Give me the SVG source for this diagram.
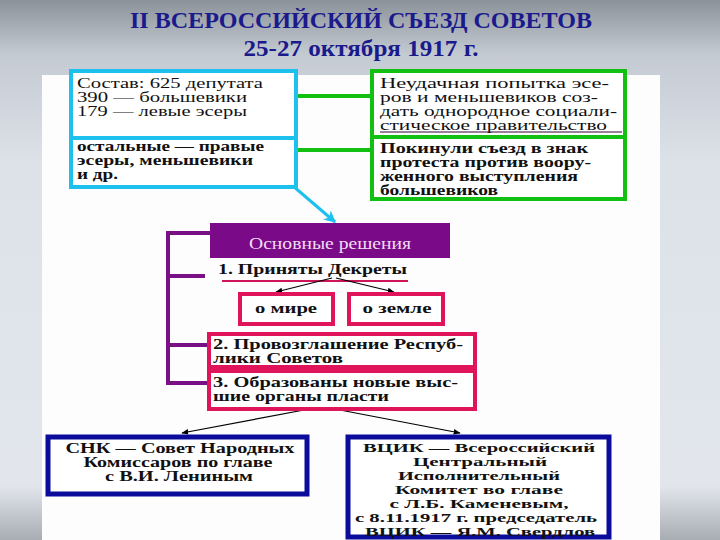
<svg xmlns="http://www.w3.org/2000/svg" width="720" height="540" viewBox="0 0 720 540">
<defs>
<linearGradient id="bg" x1="0" y1="0" x2="0" y2="1">
<stop offset="0" stop-color="#8c929a"/>
<stop offset="0.1" stop-color="#c4cad2"/>
<stop offset="0.3" stop-color="#dde2e9"/>
<stop offset="0.9" stop-color="#e2e6ec"/>
<stop offset="1" stop-color="#a8adb3"/>
</linearGradient>
<marker id="ah" viewBox="0 0 10 10" refX="9" refY="5" markerWidth="7" markerHeight="7" orient="auto" markerUnits="userSpaceOnUse">
<path d="M0,1 L10,5 L0,9 z" fill="#000"/>
</marker>
<marker id="ahc" viewBox="0 0 10 10" refX="9" refY="5" markerWidth="12" markerHeight="12" orient="auto" markerUnits="userSpaceOnUse">
<path d="M0,0 L10,5 L0,10 L3,5 z" fill="#1ec0ee"/>
</marker>
</defs>
<style>
text{font-family:"Liberation Serif","Times New Roman","DejaVu Serif",serif}
.t{font-size:14px;fill:#111}
.s{font-size:12px}
.b{font-weight:bold}
.ttl{font-weight:bold;fill:#1a1a8c}
.cy{fill:#fff;stroke:#1ec0ee;stroke-width:4}
.gr{fill:#fff;stroke:#12c012;stroke-width:4}
.rd{fill:#fff;stroke:#e0145a;stroke-width:4}
.bl{fill:#fff;stroke:#0c0c9c;stroke-width:5}
.pl{fill:none;stroke:#7a1086;stroke-width:4}
</style>
<rect x="0" y="0" width="720" height="540" fill="url(#bg)"/>
<rect x="42" y="75" width="618" height="465" fill="#fdfdfd"/>

<g id="title">
<text class="ttl" x="361" y="28" font-size="23" text-anchor="middle" textLength="462" lengthAdjust="spacingAndGlyphs">II ВСЕРОССИЙСКИЙ СЪЕЗД СОВЕТОВ</text>
<text class="ttl" x="361" y="56" font-size="23" text-anchor="middle" textLength="235" lengthAdjust="spacingAndGlyphs">25-27 октября 1917 г.</text>
</g>

<g id="connectors">
<line x1="297" y1="96" x2="372" y2="96" stroke="#12c012" stroke-width="4"/>
<line x1="297" y1="150" x2="372" y2="150" stroke="#12c012" stroke-width="4"/>
<line x1="293" y1="186" x2="335" y2="222" stroke="#1ec0ee" stroke-width="3" marker-end="url(#ahc)"/>
<path class="pl" d="M210,233 H168 V383 H207 M168,276 H205 M168,345 H207"/>
<line x1="222" y1="281" x2="408" y2="281" stroke="#d0145a" stroke-width="2"/>
<line x1="332" y1="278" x2="276" y2="292" stroke="#000" stroke-width="1.2" marker-end="url(#ah)"/>
<line x1="336" y1="278" x2="394" y2="292" stroke="#000" stroke-width="1.2" marker-end="url(#ah)"/>
<line x1="304" y1="410" x2="182" y2="433" stroke="#000" stroke-width="1.2" marker-end="url(#ah)"/>
<line x1="340" y1="410" x2="460" y2="433" stroke="#000" stroke-width="1.2" marker-end="url(#ah)"/>
</g>

<g id="composition">
<rect class="cy" x="71" y="71" width="225" height="116"/>
<line x1="71" y1="138" x2="296" y2="138" stroke="#1ec0ee" stroke-width="4"/>
<text class="t" x="77" y="88" textLength="186" lengthAdjust="spacingAndGlyphs">Состав: 625 депутата</text>
<text class="t" x="77" y="102" textLength="170" lengthAdjust="spacingAndGlyphs">390 — большевики</text>
<text class="t" x="77" y="116" textLength="170" lengthAdjust="spacingAndGlyphs">179 — левые эсеры</text>
<text class="t b" x="77" y="151" textLength="187" lengthAdjust="spacingAndGlyphs">остальные — правые</text>
<text class="t b" x="77" y="165" textLength="176" lengthAdjust="spacingAndGlyphs">эсеры, меньшевики</text>
<text class="t b" x="77" y="179" textLength="41" lengthAdjust="spacingAndGlyphs">и др.</text>
</g>

<g id="opposition">
<rect class="gr" x="372" y="71" width="253" height="128"/>
<line x1="372" y1="137" x2="625" y2="137" stroke="#12c012" stroke-width="4"/>
<line x1="380" y1="132" x2="622" y2="132" stroke="#300830" stroke-width="1.2"/>
<text class="t" x="380" y="88" textLength="229" lengthAdjust="spacingAndGlyphs">Неудачная попытка эсе-</text>
<text class="t" x="380" y="102" textLength="218" lengthAdjust="spacingAndGlyphs">ров и меньшевиков соз-</text>
<text class="t" x="380" y="116" textLength="237" lengthAdjust="spacingAndGlyphs">дать однородное социали-</text>
<text class="t" x="380" y="130" textLength="227" lengthAdjust="spacingAndGlyphs">стическое правительство</text>
<text class="t b" x="380" y="153" textLength="208" lengthAdjust="spacingAndGlyphs">Покинули съезд в знак</text>
<text class="t b" x="380" y="167" textLength="211" lengthAdjust="spacingAndGlyphs">протеста против воору-</text>
<text class="t b" x="380" y="181" textLength="198" lengthAdjust="spacingAndGlyphs">женного выступления</text>
<text class="t b" x="380" y="195" textLength="118" lengthAdjust="spacingAndGlyphs">большевиков</text>
</g>

<g id="decisions">
<rect x="210" y="223" width="240" height="35" fill="#7a0a88"/>
<text x="330" y="249" text-anchor="middle" font-size="16" fill="#f4dcf4" textLength="162" lengthAdjust="spacingAndGlyphs">Основные решения</text>
</g>

<g id="decrees">
<text class="t b" x="218" y="274" textLength="189" lengthAdjust="spacingAndGlyphs">1. Приняты Декреты</text>
</g>

<g id="peace">
<rect class="rd" x="240" y="294" width="93" height="30"/>
<text class="t b" x="286" y="313" text-anchor="middle" textLength="62" lengthAdjust="spacingAndGlyphs">о мире</text>
</g>

<g id="land">
<rect class="rd" x="349" y="294" width="94" height="30"/>
<text class="t b" x="397" y="313" text-anchor="middle" textLength="69" lengthAdjust="spacingAndGlyphs">о земле</text>
</g>

<g id="republic">
<rect class="rd" x="209" y="334" width="266" height="33"/>
<text class="t b" x="213" y="349" textLength="250" lengthAdjust="spacingAndGlyphs">2. Провозглашение Респуб-</text>
<text class="t b" x="213" y="363" textLength="130" lengthAdjust="spacingAndGlyphs">лики Советов</text>
</g>

<g id="organs">
<rect class="rd" x="209" y="371" width="266" height="38"/>
<text class="t b" x="213" y="387" textLength="245" lengthAdjust="spacingAndGlyphs">3. Образованы новые выс-</text>
<text class="t b" x="213" y="401" textLength="176" lengthAdjust="spacingAndGlyphs">шие органы пласти</text>
</g>

<g id="snk">
<rect class="bl" x="48" y="437" width="259" height="57"/>
<text class="t b" x="180" y="453" text-anchor="middle" textLength="229" lengthAdjust="spacingAndGlyphs">СНК — Совет Народных</text>
<text class="t b" x="178" y="467" text-anchor="middle" textLength="189" lengthAdjust="spacingAndGlyphs">Комиссаров по главе</text>
<text class="t b" x="179" y="481" text-anchor="middle" textLength="148" lengthAdjust="spacingAndGlyphs">с В.И. Лениным</text>
</g>

<g id="vtsik">
<rect class="bl" x="348" y="437" width="261" height="100"/>
<text class="t s b" x="479" y="452" text-anchor="middle" textLength="232" lengthAdjust="spacingAndGlyphs">ВЦИК — Всероссийский</text>
<text class="t s b" x="480" y="466" text-anchor="middle" textLength="134" lengthAdjust="spacingAndGlyphs">Центральный</text>
<text class="t s b" x="479" y="480" text-anchor="middle" textLength="162" lengthAdjust="spacingAndGlyphs">Исполнительный</text>
<text class="t s b" x="479" y="494" text-anchor="middle" textLength="168" lengthAdjust="spacingAndGlyphs">Комитет во главе</text>
<text class="t s b" x="479" y="508" text-anchor="middle" textLength="179" lengthAdjust="spacingAndGlyphs">с Л.Б. Каменевым,</text>
<text class="t s b" x="476" y="522" text-anchor="middle" textLength="242" lengthAdjust="spacingAndGlyphs">с 8.11.1917 г. председатель</text>
<text class="t s b" x="480" y="536" text-anchor="middle" textLength="230" lengthAdjust="spacingAndGlyphs">ВЦИК — Я.М. Свердлов</text>
</g>
</svg>
